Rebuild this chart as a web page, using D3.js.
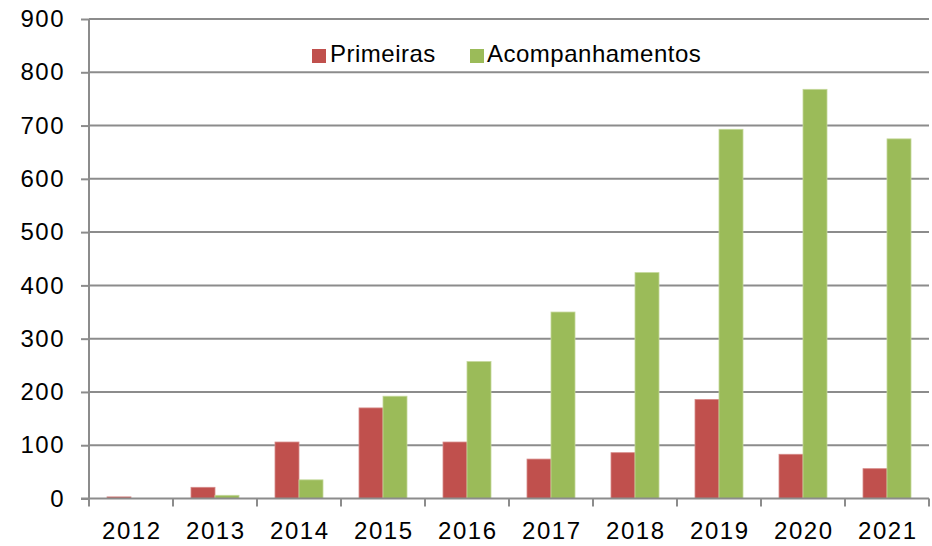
<!DOCTYPE html>
<html>
<head>
<meta charset="utf-8">
<script src="https://cdn.jsdelivr.net/npm/d3@7"></script>
<style>
  html, body { margin: 0; padding: 0; background: #fff; }
  svg { display: block; }
  text { font-family: "Liberation Sans", Arial, sans-serif; fill: #000; }
</style>
</head>
<body>
<svg id="chart" width="932" height="546"></svg>
<script>
const years = ["2012","2013","2014","2015","2016","2017","2018","2019","2020","2021"];
const seriesNames = ["Primeiras", "Acompanhamentos"];
const primeiras = [3, 21, 106, 170, 106, 74, 86, 186, 83, 56];
const acompanhamentos = [0, 6, 35, 192, 257, 350, 424, 693, 768, 675];
const yTicks = [0, 100, 200, 300, 400, 500, 600, 700, 800, 900];
const colors = ["#C0504D", "#9BBB59"];
const strokes = ["#D68A88", "#C4D89A"];

(function () {
const svg = d3.select("#chart");
const mLeft = 89, mRight = 929, mTop = 19, mBottom = 498.5;

const x0 = d3.scaleBand().domain(years).range([mLeft, mRight]).padding(0);
const x1 = d3.scaleBand().domain(seriesNames).range([0, x0.bandwidth()])
  .paddingInner(0).paddingOuter(0.75);
const y = d3.scaleLinear().domain([0, 900]).range([mBottom, mTop]);

const grid = "#8C8C8C";

const yAxis = d3.axisLeft(y).tickValues(yTicks).tickSize(8).tickPadding(16);
const gy = svg.append("g").attr("transform", `translate(${mLeft},0)`).call(yAxis);
gy.select(".domain").remove();
gy.selectAll(".tick line").attr("stroke", grid).attr("stroke-width", 2);
gy.selectAll(".tick text").attr("font-size", 24).attr("font-family", "Liberation Sans")
  .attr("letter-spacing", 1.5).attr("fill", "#000");
svg.append("g").selectAll("line").data(yTicks.filter(d => d > 0)).join("line")
  .attr("x1", mLeft).attr("x2", mRight)
  .attr("y1", d => y(d)).attr("y2", d => y(d))
  .attr("stroke", grid).attr("stroke-width", 2);

const data = years.map((yr, i) => ({ year: yr, vals: [primeiras[i], acompanhamentos[i]] }));
const groups = svg.append("g").selectAll("g").data(data).join("g")
  .attr("transform", d => `translate(${x0(d.year)},0)`);
groups.selectAll("rect").data(d => d.vals.map((v, j) => ({ v, j }))).join("rect")
  .attr("x", d => x1(seriesNames[d.j]))
  .attr("width", x1.bandwidth())
  .attr("y", d => y(d.v))
  .attr("height", d => y(0) - y(d.v))
  .attr("fill", d => colors[d.j])
  .attr("stroke", d => d.v > 0 ? strokes[d.j] : "none")
  .attr("stroke-width", 0.8);

svg.append("line").attr("x1", mLeft).attr("x2", mLeft).attr("y1", mTop).attr("y2", mBottom)
  .attr("stroke", grid).attr("stroke-width", 2);

const tickPositions = years.map(d => x0(d)).concat([mRight]);
const gx = svg.append("g");
gx.append("line").attr("x1", mLeft - 8).attr("x2", mRight).attr("y1", mBottom).attr("y2", mBottom)
  .attr("stroke", grid).attr("stroke-width", 2);
gx.selectAll("line.t").data(tickPositions).join("line").attr("class", "t")
  .attr("x1", d => d).attr("x2", d => d).attr("y1", mBottom).attr("y2", mBottom + 8)
  .attr("stroke", grid).attr("stroke-width", 2);
gx.selectAll("text").data(years).join("text")
  .attr("x", d => x0(d) + x0.bandwidth() / 2 + 0.8)
  .attr("y", 539)
  .attr("text-anchor", "middle")
  .attr("font-size", 24)
  .attr("letter-spacing", 1.5)
  .text(d => d);

const legend = svg.append("g");
const legendItems = [
  { name: seriesNames[0], color: colors[0], sx: 312, tx: 330 },
  { name: seriesNames[1], color: colors[1], sx: 470, tx: 487 }
];
legendItems.forEach(it => {
  legend.append("rect").attr("x", it.sx).attr("y", 49).attr("width", 14).attr("height", 14).attr("fill", it.color);
  legend.append("text").attr("x", it.tx).attr("y", 62).attr("font-size", 24)
    .attr("letter-spacing", 0.5).text(it.name);
});
})();
</script>
</body>
</html>
